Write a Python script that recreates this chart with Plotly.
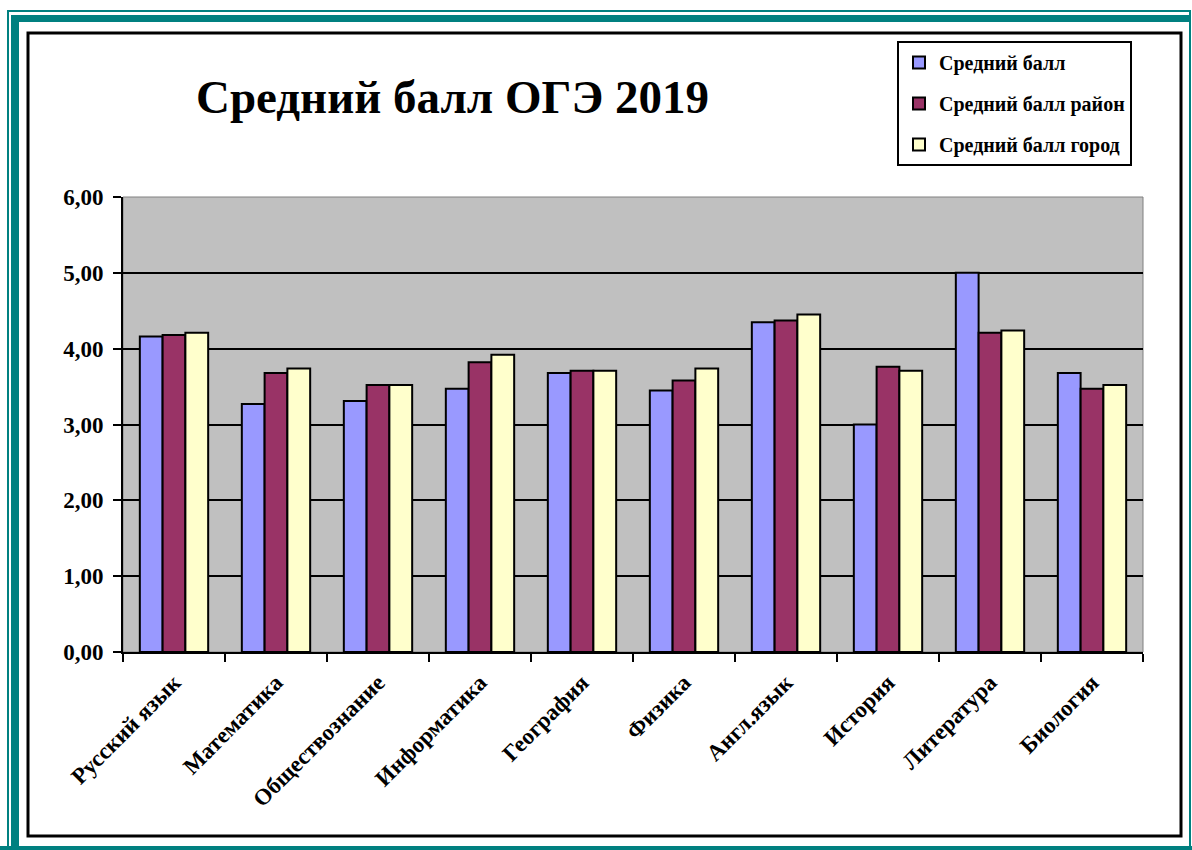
import plotly.graph_objects as go

categories = ["Русский язык", "Математика", "Обществознание", "Информатика", "География",
              "Физика", "Англ.язык", "История", "Литература", "Биология"]
school = [4.16, 3.27, 3.31, 3.47, 3.68, 3.45, 4.35, 3.00, 5.00, 3.68]
district = [4.18, 3.68, 3.52, 3.82, 3.71, 3.58, 4.37, 3.76, 4.21, 3.47]
city = [4.21, 3.74, 3.52, 3.92, 3.71, 3.74, 4.45, 3.71, 4.24, 3.52]
series_names = ["Средний балл", "Средний балл район", "Средний балл город"]
series_colors = ["#9999FF", "#993366", "#FFFFCC"]
title_text = "Средний балл ОГЭ 2019"

W, H = 1192, 850
L, R, T, B = 123, 1143, 197, 652
FONT = "Liberation Serif"


def px(x):
    return (x - L) / (R - L)


def py(y):
    return (B - y) / (B - T)


fig = go.Figure()
for i, (name, vals, col) in enumerate(zip(series_names, [school, district, city], series_colors)):
    fig.add_trace(go.Bar(
        x=categories, y=vals, name=name, legendgroup=str(i),
        marker=dict(color=col, line=dict(color="black", width=2)),
    ))

shapes = []
teal = "#008080"
def rect(x0, y0, x1, y1, fill=None, line=None, lw=0, layer="above"):
    shapes.append(dict(type="rect", xref="paper", yref="paper",
                       x0=px(x0), x1=px(x1), y0=py(y1), y1=py(y0),
                       fillcolor=fill, line=dict(color=line or "rgba(0,0,0,0)", width=lw),
                       layer=layer))

# teal outer frame
rect(7, 10, 9, 850, fill=teal)
rect(7, 10, 1191, 12, fill=teal)
rect(1189, 10, 1191, 850, fill=teal)
rect(11, 15, 19, 850, fill=teal)
rect(11, 15, 1189, 22, fill=teal)
rect(0, 846, 1192, 850, fill=teal)
# chart area border
rect(28, 33, 1181, 836, line="black", lw=3)
# plot area top/right edge
shapes.append(dict(type="rect", xref="paper", yref="paper", x0=0, x1=1, y0=0, y1=1,
                   line=dict(color="#808080", width=1), layer="below"))

fig.update_layout(
    width=W, height=H,
    margin=dict(l=L, r=W - R, t=T, b=H - B, pad=0),
    paper_bgcolor="white",
    plot_bgcolor="#C0C0C0",
    separators=", ",
    barmode="group",
    bargap=0.33,
    bargroupgap=0,
    font=dict(family=FONT, color="black"),
    shapes=shapes,
    annotations=[dict(text="<b>" + title_text + "</b>", xref="paper", yref="paper",
                      x=px(452), y=py(97), xanchor="center", yanchor="middle",
                      showarrow=False, font=dict(family=FONT, size=47, color="black"))],
    legend=dict(x=px(897), y=py(41), xanchor="left", yanchor="top",
                bgcolor="white", bordercolor="black", borderwidth=2,
                font=dict(family=FONT, size=20, color="black", weight="bold"),
                tracegroupgap=12, traceorder="grouped"),
    showlegend=True,
)
fig.update_xaxes(
    type="category", showgrid=False, showline=True, linecolor="black", linewidth=2,
    ticks="outside", tickson="boundaries", ticklen=8, tickwidth=2, tickcolor="black",
    tickangle=-45, ticklabelstandoff=6,
    tickfont=dict(family=FONT, size=23, color="black", weight="bold"),
)
fig.update_yaxes(
    range=[0, 6], dtick=1, tickformat=".2f", showgrid=True, gridcolor="black", gridwidth=2,
    showline=True, linecolor="black", linewidth=2, zeroline=False,
    ticks="outside", ticklen=8, tickwidth=2, tickcolor="black", ticklabelstandoff=5,
    tickfont=dict(family=FONT, size=23, color="black", weight="bold"),
)
fig.write_html("out.html", config={"displayModeBar": False},
               post_script="document.body.style.margin='0';document.body.style.overflow='hidden';")
